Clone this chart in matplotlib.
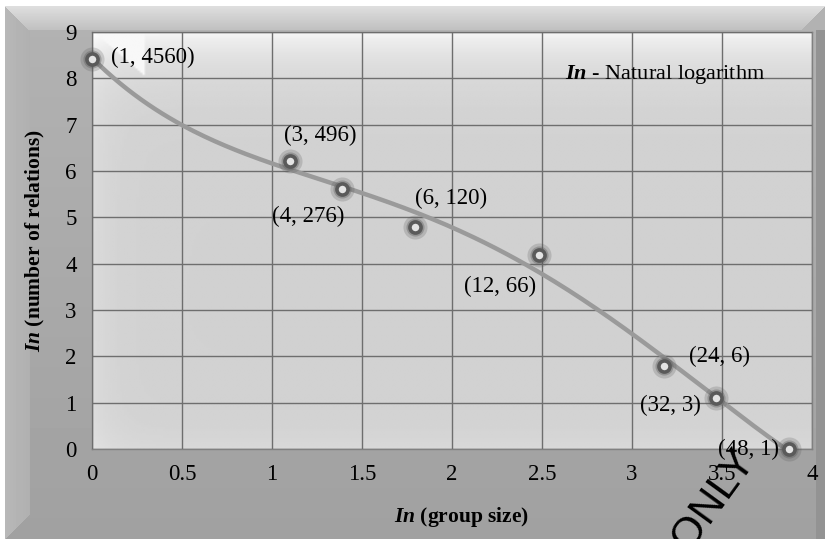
import numpy as np
import matplotlib.pyplot as plt

plt.rcParams['font.family'] = ['Liberation Serif', 'DejaVu Serif']
plt.rcParams['mathtext.fontset'] = 'custom'
plt.rcParams['mathtext.bfit'] = 'Liberation Serif:italic:bold'
plt.rcParams['mathtext.rm'] = 'Liberation Serif'

# group size and number of relations
group_size = [1, 3, 4, 6, 12, 24, 32, 48]
relations = [4560, 496, 276, 120, 66, 6, 3, 1]
point_labels = ['(1, 4560)', '(3, 496)', '(4, 276)', '(6, 120)',
                '(12, 66)', '(24, 6)', '(32, 3)', '(48, 1)']
# label offsets in points (x, y)
label_offsets = [(44, 1), (22, 19), (-24, -20), (26, 21),
                 (-28, -23), (40, 7), (-33, -5), (-29, 0)]

x = np.log(group_size)
y = np.log(relations)

W, H = 825, 539
fig = plt.figure(figsize=(W / 100, H / 100), dpi=100)

# outer bevelled background
rows, cols = np.mgrid[0:H, 0:W].astype(float)
bg = 0.70 - 0.07 * (rows / H)
top_band = (rows >= 6) & (rows < 30) & (rows - 6 <= cols - 5) & (rows - 6 <= W - 1 - cols)
bg = np.where(top_band, 0.87 - 0.12 * (rows - 6) / 24, bg)
left_band = (cols >= 5) & (cols < 30) & (rows - 6 > cols - 5) & (H - rows > cols - 5)
bg = np.where(left_band, 0.72 - 0.03 * (cols - 5) / 25, bg)
bg = np.where((cols > 815) & (rows >= 30), 0.58, bg)
bg = np.where((rows < 6) | (cols < 5), 1.0, bg)
bg_ax = fig.add_axes([0, 0, 1, 1], zorder=-10)
bg_ax.imshow(bg, cmap='gray', vmin=0, vmax=1, aspect='auto', interpolation='bilinear')
bg_ax.axis('off')

ax = fig.add_axes([92 / W, 1 - 449 / H, 720 / W, 417 / H])
ax.set_facecolor('none')

# plot area gradient
ph, pw = 200, 300
r, c = np.mgrid[0:ph, 0:pw].astype(float)
pa = 0.82 + 0.15 * np.exp(-r / 14) + 0.04 * np.exp(-c / 8) + 0.03 * np.exp(-(ph - r) / 10)
pa = np.where((r < 22) & (c < 22) & (c > r), 0.97, pa)
pa = np.clip(pa, 0, 1)
ax.imshow(pa, cmap='gray', vmin=0, vmax=1, aspect='auto', extent=[0, 1, 0, 1],
          transform=ax.transAxes, zorder=0, interpolation='bilinear')

ax.set_xlim(0, 4)
ax.set_ylim(0, 9)
ax.set_xticks(np.arange(0, 4.01, 0.5))
ax.set_xticklabels(['0', '0.5', '1', '1.5', '2', '2.5', '3', '3.5', '4'])
ax.set_yticks(range(0, 10))
ax.grid(True, color='#6e6e6e', linewidth=1.0, zorder=1)
ax.set_axisbelow(False)
for s in ax.spines.values():
    s.set_color('#808080')
    s.set_linewidth(1.0)
ax.tick_params(length=0, labelsize=16.5, pad=11)

# polynomial trend line
coef = np.polyfit(x, y, 4)
xs = np.linspace(0, x.max(), 200)
ax.plot(xs, np.polyval(coef, xs), color='#9a9a9a', linewidth=3.2, zorder=3,
        solid_capstyle='round')

# points with glow
ax.scatter(x, y, s=300, color='#555555', alpha=0.22, linewidths=0, zorder=4, clip_on=False)
ax.scatter(x, y, s=170, color='#555555', alpha=0.35, linewidths=0, zorder=4, clip_on=False)
ax.plot(x, y, 'o', markersize=8, markerfacecolor='#e4e4e4', markeredgecolor='#5a5a5a',
        markeredgewidth=2.6, linestyle='none', zorder=5, clip_on=False)

for xi, yi, lab, off in zip(x, y, point_labels, label_offsets):
    ax.annotate(lab, (xi, yi), xytext=off, textcoords='offset points',
                ha='center', va='center', fontsize=16.5, zorder=6)

ax.text(0.935, 0.897, r'$\mathbfit{In}$ - Natural logarithm', transform=ax.transAxes,
        ha='right', va='center', fontsize=16)

fig.text(462 / W, 1 - 517 / H, r'$\mathbfit{In}$ (group size)', ha='center', va='center',
         fontsize=15.5, fontweight='bold')
fig.text(35 / W, 1 - 241 / H, r'$\mathbfit{In}$ (number of relations)', ha='center',
         va='center', fontsize=15.5, fontweight='bold', rotation=90)

# watermark
fig.text(714 / W, 1 - 500 / H, 'ONLY', family='Liberation Sans', fontsize=31,
         rotation=54, ha='center', va='center', color='black', zorder=10)

fig.savefig('out.png', dpi=100)
